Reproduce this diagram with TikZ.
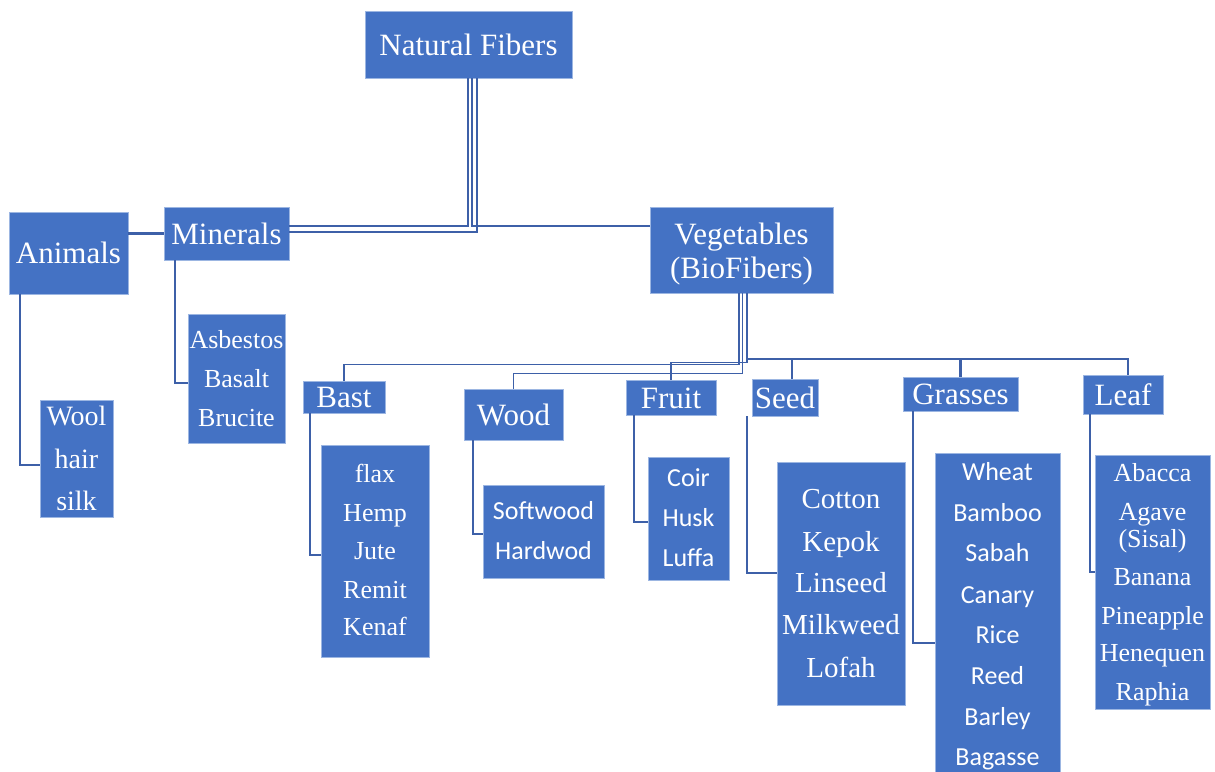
\documentclass[tikz,border=0pt]{standalone}
\usepackage{fontspec}
\setmainfont{Liberation Serif}
\newfontfamily\tmsfont{Liberation Serif}
\newfontfamily\calfont{Carlito}
\definecolor{boxblue}{RGB}{68,114,196}
\definecolor{boxedge}{RGB}{156,182,226}
\definecolor{wirecol}{RGB}{61,96,168}
\begin{document}
\begin{tikzpicture}[x=1pt,y=-1pt,
  box/.style={fill=boxblue, draw=boxedge, line width=0.6pt, inner sep=0pt, text=white},
  head/.style={box, font=\tmsfont\fontsize{31}{31}\selectfont, text height=21pt, text depth=0pt},
  hd/.style={text=white, inner sep=0pt, font=\tmsfont\fontsize{31}{31}\selectfont, text height=21pt, text depth=0pt},
  tm26/.style={text=white, inner sep=0pt, font=\tmsfont\fontsize{26}{26}\selectfont, text height=17.7pt, text depth=0pt},
  tm28/.style={text=white, inner sep=0pt, font=\tmsfont\fontsize{28}{28}\selectfont, text height=19pt, text depth=0pt},
  tm29/.style={text=white, inner sep=0pt, font=\tmsfont\fontsize{29}{29}\selectfont, text height=19.7pt, text depth=0pt},
  cb26/.style={text=white, inner sep=0pt, font=\calfont\fontsize{26}{26}\selectfont, text height=17.7pt, text depth=0pt},
  wire/.style={draw=wirecol, line width=2.2pt},
  thinwire/.style={draw=wirecol, line width=1.5pt}]
\useasboundingbox (0,0) rectangle (1215,771);

% top level
\node[head, minimum width=207pt, minimum height=67pt] (nf) at (468.5,44.5) {Natural Fibers};
\node[head, minimum width=119pt, minimum height=82pt] (ani) at (68.5,253) {Animals};
\node[head, minimum width=125pt, minimum height=53pt] (min) at (226.5,233.5) {Minerals};
\node[box, minimum width=183pt, minimum height=86pt] (veg) at (741.5,250) {};
\node[hd] (veg-1) at (741.5,234) {Vegetables};
\node[hd] (veg-2) at (741.5,268) {(BioFibers)};

% vegetable groups
\node[head, minimum width=82pt, minimum height=32pt] (bast) at (344,397) {Bast};
\node[head, minimum width=99pt, minimum height=51pt] (wood) at (513.5,414.5) {Wood};
\node[head, minimum width=90pt, minimum height=35pt] (fruit) at (671,397.5) {Fruit};
\node[head, minimum width=66pt, minimum height=37pt] (seed) at (785,397.5) {Seed};
\node[head, minimum width=115pt, minimum height=34pt] (grasses) at (960.5,394) {Grasses};
\node[head, minimum width=80pt, minimum height=39pt] (leaf) at (1123,394.5) {Leaf};

% list boxes
\node[box, minimum width=73pt, minimum height=117pt] (wool) at (76.5,458.5) {};
\node[box, minimum width=97pt, minimum height=129pt] (asb) at (236.5,378.5) {};
\node[box, minimum width=108pt, minimum height=212pt] (bastl) at (375,551) {};
\node[box, minimum width=121pt, minimum height=93pt] (woodl) at (543.5,531.5) {};
\node[box, minimum width=81pt, minimum height=123pt] (fruitl) at (688.5,518.5) {};
\node[box, minimum width=128pt, minimum height=243pt] (seedl) at (841,583.5) {};
\node[box, minimum width=125pt, minimum height=327pt] (grassl) at (997.5,616.5) {};
\node[box, minimum width=115pt, minimum height=254pt] (leafl) at (1152.5,582) {};

% list entries
\foreach \w/\y [count=\i] in {Wool/416, hair/459, silk/501}
  \node[tm28] (wool-\i) at (76.5,\y) {\w};
\foreach \w/\y [count=\i] in {Asbestos/340, Basalt/379, Brucite/418}
  \node[tm26] (asb-\i) at (236.5,\y) {\w};
\foreach \w/\y [count=\i] in {flax/474, Hemp/513, Jute/551, Remit/590, Kenaf/627}
  \node[tm26] (bastl-\i) at (375,\y) {\w};
\foreach \w/\y [count=\i] in {Softwood/511, Hardwod/551}
  \node[cb26] (woodl-\i) at (543.5,\y) {\w};
\foreach \w/\y [count=\i] in {Coir/478, Husk/518, Luffa/558}
  \node[cb26] (fruitl-\i) at (688.5,\y) {\w};
\foreach \w/\y [count=\i] in {Cotton/499, Kepok/542, Linseed/583, Milkweed/625, Lofah/668}
  \node[tm29] (seedl-\i) at (841,\y) {\w};
\foreach \w/\y [count=\i] in {Wheat/472, Bamboo/513, Sabah/553, Canary/595, Rice/635, Reed/676, Barley/717, Bagasse/757}
  \node[cb26] (grassl-\i) at (997.5,\y) {\w};
\foreach \w/\y [count=\i] in {Abacca/473, Agave/512, (Sisal)/539, Banana/577, Pineapple/616, Henequen/653, Raphia/692}
  \node[tm26] (leafl-\i) at (1152.5,\y) {\w};

% connectors from the root
\draw[thinwire] ([xshift=-0.5pt]nf.south) |- ([yshift=7.5pt]min.east);
\draw[thinwire] ([xshift=8.5pt]nf.south) |- ([yshift=1.5pt]min.east);
\draw[thinwire] ([xshift=3.5pt]nf.south) |- ([yshift=24pt]veg.west);
\draw[wire] (min.west -| ani.east) -- (min.west);
\draw[wire] ([xshift=11pt]ani.south west) |- ([yshift=-6.5pt]wool.west);
\draw[wire] ([xshift=11pt]min.south west) |- ([yshift=-4.5pt]asb.west);

% connectors from the vegetable fibres
\draw[thinwire] ([xshift=-2.5pt]veg.south) |- ([yshift=16pt]bast.north) -- (bast.north);
\draw[thinwire] ([xshift=1pt]veg.south) |- ([yshift=15pt]wood.north) -- (wood.north);
\draw[thinwire] ([xshift=5.5pt]veg.south) |- ([yshift=17pt]fruit.north) -- (fruit.north);
\draw[wire] ([xshift=5.5pt]veg.south) |- ([xshift=7pt,yshift=20pt]seed.north) -- ([xshift=7pt]seed.north);
\draw[wire] ([xshift=5.5pt]veg.south) |- ([yshift=18pt]grasses.north) -- (grasses.north);
\draw[wire] ([xshift=5.5pt]veg.south) |- ([xshift=5pt,yshift=16pt]leaf.north) -- ([xshift=5pt]leaf.north);

% connectors to the lists
\draw[wire] ([xshift=7pt]bast.south west) |- ([yshift=-4pt]bastl.west);
\draw[wire] ([xshift=9pt]wood.south west) |- ([yshift=-2.5pt]woodl.west);
\draw[wire] ([xshift=8pt]fruit.south west) |- ([yshift=-3.5pt]fruitl.west);
\draw[wire] ([xshift=-5pt]seed.south west) |- ([yshift=10.5pt]seedl.west);
\draw[wire] ([xshift=10pt]grasses.south west) |- ([yshift=-26.5pt]grassl.west);
\draw[wire] ([xshift=7pt]leaf.south west) |- ([yshift=10pt]leafl.west);
\end{tikzpicture}
\end{document}
